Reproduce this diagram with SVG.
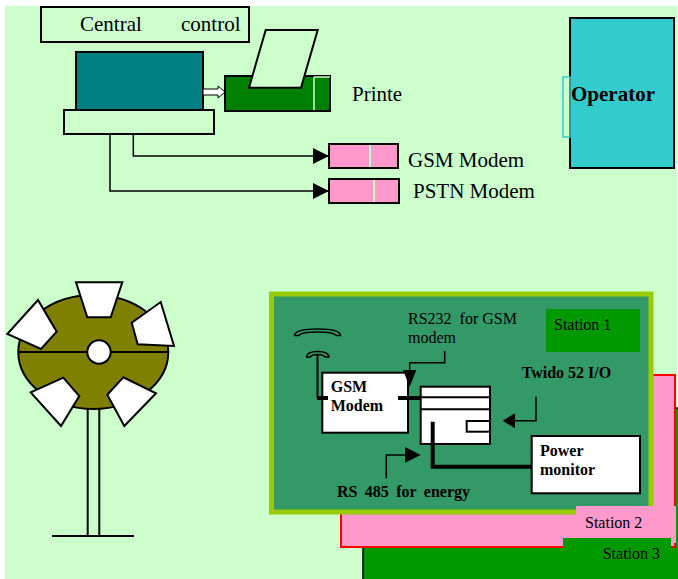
<svg xmlns="http://www.w3.org/2000/svg" width="678" height="579" viewBox="0 0 678 579">
  <style>
    .t { font-family: "Liberation Serif", "Times New Roman", serif; fill: #000; }
    .big { font-size: 21px; }
    .sm { font-size: 16px; }
    .b { font-weight: bold; }
    .ln { stroke: #000; stroke-width: 1.5; fill: none; }
    .thick { stroke: #000; stroke-width: 4; fill: none; }
    .box { stroke: #000; stroke-width: 2; }
  </style>
  <defs>
    <marker id="tri" viewBox="0 0 16 16" refX="16" refY="8" markerWidth="16" markerHeight="16" markerUnits="userSpaceOnUse" orient="auto">
      <path d="M0,0 L16,8 L0,16 Z" fill="#000"/>
    </marker>
  </defs>

  <!-- page background -->
  <rect x="5" y="6" width="672" height="573" fill="#ccffcc"/>

  <!-- central control station -->
  <g id="central-control">
    <rect x="41" y="7" width="208" height="35" fill="#ccffcc" class="box"/>
    <text x="80" y="31" class="t big">Central</text>
    <text x="181" y="31" class="t big">control</text>
  </g>
  <g id="computer">
    <rect x="76" y="52" width="127" height="58" fill="#008080" class="box"/>
    <rect x="64" y="110" width="150" height="24" fill="#ccffcc" class="box"/>
  </g>
  <g id="printer">
    <rect x="225" y="76" width="105" height="35" fill="#008000" class="box"/>
    <path d="M314,77 V110 M314,77 H330" stroke="#ccffcc" stroke-width="1.5" fill="none"/>
    <polygon points="265.7,30 317.7,30 301,87.7 249,87.7" fill="#ccffcc" stroke="#000" stroke-width="2"/>
    <text x="352" y="101" class="t big">Printe</text>
  </g>
  <g id="gsm-modem-top">
    <rect x="329" y="144" width="69" height="24" fill="#ff99cc" class="box"/>
    <line x1="370" y1="145" x2="370" y2="167" stroke="#ccffcc" stroke-width="2"/>
    <text x="408" y="167" class="t big">GSM Modem</text>
  </g>
  <g id="pstn-modem">
    <rect x="329" y="179" width="70" height="24" fill="#ff99cc" class="box"/>
    <line x1="374" y1="180" x2="374" y2="202" stroke="#ccffcc" stroke-width="2"/>
    <text x="413" y="198" class="t big">PSTN Modem</text>
  </g>
  <g id="operator">
    <rect x="570" y="18" width="104" height="150" fill="#33cccc" class="box"/>
    <rect x="563" y="77" width="7" height="60" fill="none" stroke="#33cccc" stroke-width="1.5"/>
    <text x="571" y="101" class="t big b">Operator</text>
  </g>

  <!-- wind turbine -->
  <g id="wind-turbine">
    <line x1="87.7" y1="409" x2="87.7" y2="536" stroke="#000" stroke-width="2"/>
    <line x1="99.3" y1="409" x2="99.3" y2="536" stroke="#000" stroke-width="2"/>
    <line x1="52" y1="536" x2="134" y2="536" stroke="#000" stroke-width="2"/>
    <ellipse cx="93.3" cy="352" rx="75" ry="57" fill="#808000" stroke="#000" stroke-width="2"/>
    <line x1="18.3" y1="352" x2="168.3" y2="352" stroke="#000" stroke-width="2"/>
    <circle cx="99" cy="352" r="11.7" fill="#fff" stroke="#000" stroke-width="2"/>
    <g fill="#fff" stroke="#000" stroke-width="2" stroke-linejoin="miter">
      <polygon points="76,282.3 122.3,282.3 110.7,317.3 87.3,317.3"/>
      <polygon points="7.3,334 38,300 56.7,331.7 41,349"/>
      <polygon points="131.7,322.7 160.7,302 174,346 137.7,344.3"/>
      <polygon points="30.7,392.3 63.3,377.7 79.3,396 61,426"/>
      <polygon points="107.3,394.7 123.3,377.3 156,393.3 124.3,426"/>
    </g>
  </g>

  <!-- stacked stations -->
  <g id="station-3">
    <rect x="363" y="408" width="330" height="190" fill="#009900" stroke="#000" stroke-width="1.5"/>
  </g>
  <g id="station-2">
    <rect x="341" y="375" width="334" height="172" fill="#ff99cc" stroke="#ff0000" stroke-width="2"/>
  </g>
  <g id="station-1">
    <rect x="271.5" y="294" width="379.5" height="218" fill="#339966" stroke="#99cc00" stroke-width="5"/>
    <rect x="546" y="309" width="94" height="43" fill="#009900"/>
    <text x="554" y="330" class="t sm">Station 1</text>
  </g>
  <g id="station-2-label">
    <rect x="576" y="506" width="100" height="37" fill="#ff99cc"/>
    <text x="585" y="528" class="t sm">Station 2</text>
  </g>
  <g id="station-3-label">
    <rect x="563" y="538" width="108" height="41" fill="#009900"/>
    <text x="602.7" y="559" class="t sm">Station 3</text>
  </g>

  <!-- station 1 equipment -->
  <g id="antenna">
    <path d="M294.5,335.5 Q295,329 317.5,329 Q340,329 340.5,335.5 L336,335.5 Q334,332 317.5,332 Q301,332 299,335.5 Z" fill="none" stroke="#000" stroke-width="1.5"/>
    <path d="M306.5,357 Q307,351.5 317.5,351.5 Q328.5,351.5 329,357 L325,357 Q323.5,354.5 317.5,354.5 Q311.5,354.5 310.5,357 Z" fill="none" stroke="#000" stroke-width="1.5"/>
    <line x1="317.5" y1="355" x2="317.5" y2="398" stroke="#000" stroke-width="2"/>
  </g>
  <g id="gsm-modem">
    <rect x="322.3" y="372.7" width="85.7" height="60" fill="#fff" class="box"/>
    <text x="330.7" y="392" class="t sm b">GSM</text>
    <text x="330.7" y="411" class="t sm b">Modem</text>
  </g>
  <g id="twido">
    <rect x="420.7" y="386.7" width="69.3" height="57.3" fill="#fff" class="box"/>
    <line x1="420.7" y1="397.3" x2="490" y2="397.3" stroke="#000" stroke-width="2"/>
    <line x1="420.7" y1="409.3" x2="490" y2="409.3" stroke="#000" stroke-width="2"/>
    <rect x="466.7" y="421" width="23.3" height="10.7" fill="#fff" class="box"/>
    <text x="521.7" y="377.5" class="t sm b">Twido 52 I/O</text>
  </g>
  <g id="power-monitor">
    <rect x="531.7" y="436" width="108.3" height="57.3" fill="#fff" class="box"/>
    <text x="540" y="456" class="t sm b">Power</text>
    <text x="540" y="474.5" class="t sm b">monitor</text>
  </g>
  <g id="labels">
    <text x="408" y="324" class="t sm" xml:space="preserve">RS232  for GSM</text>
    <text x="408" y="343" class="t sm">modem</text>
    <text x="337" y="497" class="t sm b" word-spacing="3.4">RS 485 for energy</text>
  </g>

  <!-- connectors -->
  <g id="connectors">
    <polygon points="203,89 218,89 218,86 225,92 218,98 218,95 203,95" fill="#fff" stroke="#000" stroke-width="1"/>
    <polyline points="133.3,134 133.3,156 329,156" class="ln" marker-end="url(#tri)"/>
    <polyline points="110,134 110,191 329,191" class="ln" marker-end="url(#tri)"/>
    <!-- RS232 pointer -->
    <polyline points="444.7,351 444.7,362.7 409.7,362.7 409.7,372" class="ln"/>
    <polygon points="403,370 416.3,370 409.7,386.7" fill="#000"/>
    <!-- antenna and serial links -->
    <line x1="317" y1="398" x2="328" y2="398" class="thick"/>
    <line x1="398" y1="398" x2="421" y2="398" class="thick"/>
    <polyline points="432.7,421.7 432.7,466.7 531.7,466.7" class="thick"/>
    <!-- Twido pointer -->
    <polyline points="536,396.7 536,420.7 514,420.7" class="ln"/>
    <polygon points="515,413.3 515,428.3 502.7,420.7" fill="#000"/>
    <!-- RS485 pointer -->
    <polyline points="386.3,478.3 386.3,455 406,455" class="ln"/>
    <polygon points="405,447 405,462.7 420.7,455" fill="#000"/>
  </g>
</svg>
